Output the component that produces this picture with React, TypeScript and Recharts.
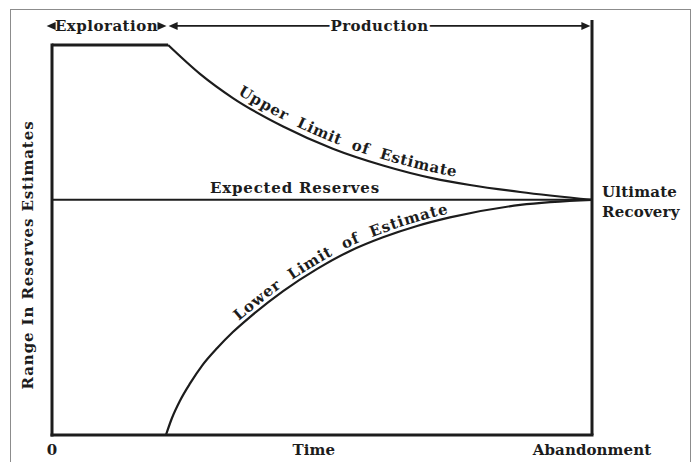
import React from "react"
import { LineChart, Line, XAxis, YAxis, ReferenceLine, Label } from "recharts"

// time axis runs 0..100, reserves axis 0..100 (schematic, no units)
const timeTicks = [0, 48.5, 100]
const timeTickLabels = ["0", "Time", "Abandonment"]

const phaseNames = ["Exploration", "Production"]
const phaseStart = [-1, 21.6]
const phaseEnd = [21.2, 99.7]
const phaseLevel = 104.9

const flatT = [0, 21.5]
const flatV = [100, 100]

const upperT = [21.5, 27.4, 33.5, 42.8, 52.0, 61.3, 70.6, 77.4, 86.7, 100]
const upperV = [100, 92.6, 86.4, 79.1, 73.4, 69.1, 65.8, 64.1, 62.3, 60.3]

const lowerT = [21.1, 22.2, 23.7, 25.6, 27.8, 30.6, 33.5, 36.7, 42.8, 49.1, 55.2, 61.3, 67.6, 73.7, 86.7, 100]
const lowerV = [0, 4.3, 8.8, 13.3, 17.8, 22.3, 26.4, 30.3, 36.9, 42.6, 47.2, 50.7, 53.6, 55.8, 59.0, 60.3]

const expected = 60.3
const abandonTop = 106.4

const ink = "#1c1c1c"
const font = '"DejaVu Serif", serif'

const toRows = (t: number[], v: number[]) => t.map((x, i) => ({ t: x, v: v[i] }))

// catmull-rom -> bezier, just for the text paths along the curves
function smoothPath(pts: { x: number; y: number }[]) {
  let d = `M${pts[0].x},${pts[0].y}`
  for (let i = 0; i < pts.length - 1; i++) {
    const p0 = pts[i - 1] || pts[i]
    const p1 = pts[i]
    const p2 = pts[i + 1]
    const p3 = pts[i + 2] || p2
    const c1x = p1.x + (p2.x - p0.x) / 6
    const c1y = p1.y + (p2.y - p0.y) / 6
    const c2x = p2.x - (p3.x - p1.x) / 6
    const c2y = p2.y - (p3.y - p1.y) / 6
    d += ` C${c1x},${c1y} ${c2x},${c2y} ${p2.x},${p2.y}`
  }
  return d
}

function curveTextDot(id: string, text: string, offset: number, lift: number) {
  return (p: any) => {
    if (!p.points || p.index !== p.points.length - 1) return <g key={`d-${id}-${p.index}`} />
    return (
      <g key={`d-${id}-${p.index}`}>
        <path id={id} d={smoothPath(p.points)} fill="none" stroke="none" />
        <text fontFamily={font} fontWeight="bold" fontSize={15} fill={ink} letterSpacing={0.7} wordSpacing={6}>
          <textPath href={`#${id}`} startOffset={offset}>
            <tspan dy={-lift}>{text}</tspan>
          </textPath>
        </text>
      </g>
    )
  }
}

function phaseShape(name: string) {
  return (p: any) => {
    const { x1, y1, x2 } = p
    const mid = (x1 + x2) / 2
    const ah = 9
    const hw = 4
    return (
      <g>
        <line x1={x1 + 4} y1={y1} x2={x2 - 4} y2={y1} stroke={ink} strokeWidth={1.8} />
        <text
          x={mid}
          y={y1}
          dy={5}
          textAnchor="middle"
          fontFamily={font}
          fontWeight="bold"
          fontSize={15}
          letterSpacing={0.5}
          fill={ink}
          stroke="#fff"
          strokeWidth={6}
          paintOrder="stroke"
        >
          {name}
        </text>
        <polygon points={`${x1},${y1} ${x1 + ah},${y1 - hw} ${x1 + ah},${y1 + hw}`} fill={ink} />
        <polygon points={`${x2},${y1} ${x2 - ah},${y1 - hw} ${x2 - ah},${y1 + hw}`} fill={ink} />
      </g>
    )
  }
}

function TimeTick(p: any) {
  const i = timeTicks.indexOf(p.payload.value)
  return (
    <text x={p.x} y={p.y} dy={12} textAnchor="middle" fontFamily={font} fontWeight="bold" fontSize={15} letterSpacing={0.1} fill={ink}>
      {timeTickLabels[i]}
    </text>
  )
}

function ReservesLabel(p: any) {
  const vb = p.viewBox
  const cx = vb.x + 28
  const cy = vb.y + vb.height / 2 + 15
  return (
    <text
      x={cx}
      y={cy}
      transform={`rotate(-90 ${cx} ${cy})`}
      textAnchor="middle"
      dominantBaseline="central"
      fontFamily={font}
      fontWeight="bold"
      fontSize={15}
      letterSpacing={0.9}
      fill={ink}
    >
      Range In Reserves Estimates
    </text>
  )
}

function ExpectedLabel(p: any) {
  const vb = p.viewBox
  const right = vb.x + vb.width
  return (
    <g fontFamily={font} fontWeight="bold" fontSize={15} fill={ink}>
      <text x={vb.x + 243} y={vb.y - 7} textAnchor="middle" letterSpacing={0.8}>
        Expected Reserves
      </text>
      <text x={right + 10} y={vb.y - 3} letterSpacing={0.2}>Ultimate</text>
      <text x={right + 10} y={vb.y + 17} letterSpacing={0.2}>Recovery</text>
    </g>
  )
}

export default function App() {
  return (
    <div style={{ position: "absolute", left: 0, top: 0, width: 697, height: 462, background: "#fff", overflow: "hidden" }}>
      <div style={{ position: "absolute", left: 10, top: 9, width: 679, height: 480, border: "1px solid #8c8c8c" }} />
      <div style={{ position: "absolute", left: 0, top: 0 }}>
        <LineChart width={697} height={462} margin={{ top: 45, right: 105, bottom: 0, left: 0 }}>
          <XAxis
            type="number"
            dataKey="t"
            domain={[0, 100]}
            ticks={timeTicks}
            interval={0}
            height={27}
            tick={<TimeTick />}
            tickLine={false}
            axisLine={{ stroke: ink, strokeWidth: 3, strokeLinecap: "square" }}
          />
          <YAxis
            type="number"
            dataKey="v"
            domain={[0, 100]}
            width={52}
            tick={false}
            tickLine={false}
            axisLine={{ stroke: ink, strokeWidth: 3, strokeLinecap: "square" }}
          >
            <Label content={<ReservesLabel />} />
          </YAxis>

          <ReferenceLine y={expected} stroke={ink} strokeWidth={2} label={<ExpectedLabel />} />
          <ReferenceLine
            segment={[{ x: 100, y: 0 }, { x: 100, y: abandonTop }]}
            stroke={ink}
            strokeWidth={3}
            ifOverflow="visible"
          />
          {phaseNames.map((name, i) => (
            <ReferenceLine
              key={name}
              segment={[{ x: phaseStart[i], y: phaseLevel }, { x: phaseEnd[i], y: phaseLevel }]}
              ifOverflow="visible"
              shape={phaseShape(name)}
            />
          ))}

          <Line data={toRows(flatT, flatV)} dataKey="v" type="linear" stroke={ink} strokeWidth={3} dot={false} isAnimationActive={false} />
          <Line
            data={toRows(upperT, upperV)}
            dataKey="v"
            type="monotone"
            stroke={ink}
            strokeWidth={2.2}
            dot={curveTextDot("upperPath", "Upper Limit of Estimate", 86, 6)}
            activeDot={false}
            isAnimationActive={false}
          />
          <Line
            data={toRows(lowerT, lowerV)}
            dataKey="v"
            type="monotone"
            stroke={ink}
            strokeWidth={2.2}
            dot={curveTextDot("lowerPath", "Lower Limit of Estimate", 136, 4)}
            activeDot={false}
            isAnimationActive={false}
          />
        </LineChart>
      </div>
    </div>
  )
}
